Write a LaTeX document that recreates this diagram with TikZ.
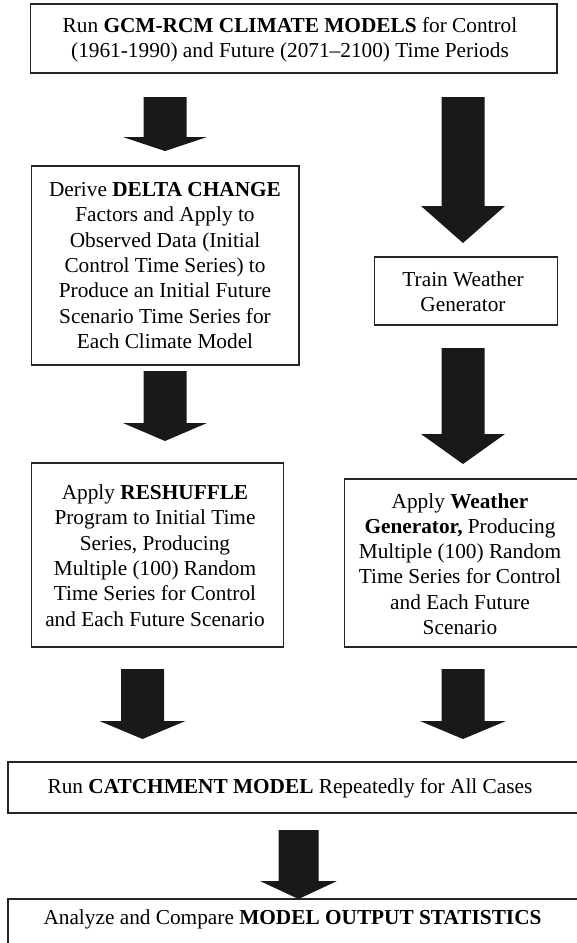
\documentclass[tikz,border=0pt]{standalone}
\usepackage{fontspec}
\setmainfont{Liberation Serif}
\usetikzlibrary{calc}
\tikzset{
  box/.style={draw=black!85, line width=1.2pt, rectangle, inner sep=0pt},
  txt/.style={align=center, inner sep=0pt, font=\fontsize{21.3}{25.3}\selectfont},
  arrowfill/.style={fill=black!90}
}
\newcommand\blockarrow[5]{%
  \fill[arrowfill] ($(#1)+(-#4,0)$) -- ($(#1)+(#4,0)$) -- ($(#2)+(#4,-#3)$) -- ($(#2)+(#5,-#3)$) -- (#2) -- ($(#2)+(-#5,-#3)$) -- ($(#2)+(-#4,-#3)$) -- cycle;}
\begin{document}
\begin{tikzpicture}[x=1pt,y=-1pt]
\useasboundingbox (0,0) rectangle (577,943);
\clip (0,0) rectangle (577,943);
% boxes
\node[box, minimum width=526.5, minimum height=69] (top) at (293.75,38.5) {};
\node[txt] (topT) at (290,40) {Run \textbf{GCM-RCM CLIMATE MODELS} for Control\\(1961-1990) and Future (2071--2100) Time Periods};
\node[box, minimum width=267.6, minimum height=199] (delta) at (165.1,265.5) {};
\node[txt] (deltaT) at (165,265.5) {Derive \textbf{DELTA CHANGE}\\Factors and Apply to\\Observed Data (Initial\\Control Time Series) to\\Produce an Initial Future\\Scenario Time Series for\\Each Climate Model};
\node[box, minimum width=183, minimum height=68] (train) at (466.2,291) {};
\node[txt] (trainT) at (463,292) {Train Weather\\Generator};
\node[box, minimum width=252.5, minimum height=184] (resh) at (157.5,555) {};
\node[txt] (reshT) at (155,555.5) {Apply \textbf{RESHUFFLE}\\Program to Initial Time\\Series, Producing\\Multiple (100) Random\\Time Series for Control\\and Each Future Scenario};
\node[box, minimum width=245.5, minimum height=168] (wgen) at (467.25,563) {};
\node[txt] (wgenT) at (460,564) {Apply \textbf{Weather}\\\textbf{Generator,} Producing\\Multiple (100) Random\\Time Series for Control\\and Each Future\\Scenario};
\node[box, minimum width=592, minimum height=51] (catch) at (304,787.5) {};
\node[txt] (catchT) at (290,788) {Run \textbf{CATCHMENT MODEL} Repeatedly for All Cases};
\node[box, minimum width=592, minimum height=71] (out) at (304,934.5) {};
\node[txt] (outT) at (292.5,919) {Analyze and Compare \textbf{MODEL OUTPUT STATISTICS}};
% arrow end points
\coordinate (a1s) at (165,97);   \coordinate (a1e) at (165,151);
\coordinate (a2s) at (463,97);   \coordinate (a2e) at (463,243);
\coordinate (a3s) at (165,371);  \coordinate (a3e) at (165,441);
\coordinate (a4s) at (463,348);  \coordinate (a4e) at (463,464);
\coordinate (a5s) at (142.5,669);\coordinate (a5e) at (142.5,739);
\coordinate (a6s) at (463,669);  \coordinate (a6e) at (463,739);
\coordinate (a7s) at (298.5,830);\coordinate (a7e) at (298.5,899);
\blockarrow{a1s}{a1e}{14}{21.5}{42}
\blockarrow{a2s}{a2e}{37}{21.5}{42}
\blockarrow{a3s}{a3e}{18}{21.5}{42}
\blockarrow{a4s}{a4e}{30}{21.5}{42}
\blockarrow{a5s}{a5e}{18}{21.5}{43}
\blockarrow{a6s}{a6e}{18}{21.5}{43}
\blockarrow{a7s}{a7e}{18}{20}{38.5}
\end{tikzpicture}
\end{document}
